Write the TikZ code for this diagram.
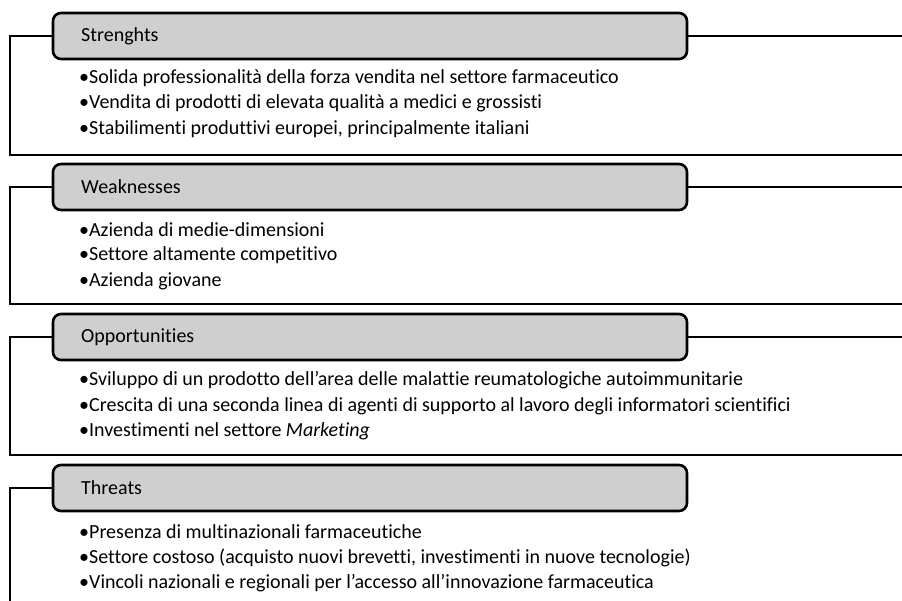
\documentclass[tikz,border=0pt]{standalone}
\usepackage{fontspec}
\setmainfont{Carlito}[Ligatures=NoCommon]
\definecolor{hdrgray}{HTML}{CFCFCF}
\tikzset{
  frame/.style={line width=2.6pt, draw=black},
  hdr/.style={draw=black, line width=2.6pt, fill=hdrgray, rounded corners=8pt,
    minimum width=634pt, minimum height=46pt, inner sep=0pt},
  hdrtext/.style={anchor=west, inner sep=0pt, font=\fontsize{20}{24}\selectfont},
  item/.style={anchor=west, inner sep=0pt, font=\fontsize{20}{24}\selectfont}
}
\begin{document}
\begin{tikzpicture}[x=1pt,y=-1pt]
\useasboundingbox (0,0) rectangle (902,601);
% Section 1
\node[hdr] (h1) at (370,36) {};
\node[hdrtext] (t1) at (81,36) {Strenghts};
\coordinate (l1a) at (10,36); \coordinate (l1b) at (10,155);
\coordinate (r1a) at (902,36); \coordinate (r1b) at (902,155);
\draw[frame] (h1.west) -- (l1a) -- (l1b) -- (r1b);
\draw[frame] (h1.east) -- (r1a);
\node[item] (s1) at (79,78) {•Solida professionalità della forza vendita nel settore farmaceutico};
\node[item] (s2) at (79,103.5) {•Vendita di prodotti di elevata qualità a medici e grossisti};
\node[item] (s3) at (79,129) {•Stabilimenti produttivi europei, principalmente italiani};
% Section 2
\node[hdr] (h2) at (370,187) {};
\node[hdrtext] (t2) at (81,187) {Weaknesses};
\coordinate (l2a) at (10,187); \coordinate (l2b) at (10,304);
\coordinate (r2a) at (902,187); \coordinate (r2b) at (902,304);
\draw[frame] (h2.west) -- (l2a) -- (l2b) -- (r2b);
\draw[frame] (h2.east) -- (r2a);
\node[item] (w1) at (79,230) {•Azienda di medie-dimensioni};
\node[item] (w2) at (79,255.5) {•Settore altamente competitivo};
\node[item] (w3) at (79,281) {•Azienda giovane};
% Section 3
\node[hdr] (h3) at (370,337) {};
\node[hdrtext] (t3) at (81,337) {Opportunities};
\coordinate (l3a) at (10,337); \coordinate (l3b) at (10,455);
\coordinate (r3a) at (902,337); \coordinate (r3b) at (902,455);
\draw[frame] (h3.west) -- (l3a) -- (l3b) -- (r3b);
\draw[frame] (h3.east) -- (r3a);
\node[item] (o1) at (79,380.5) {•Sviluppo di un prodotto dell’area delle malattie reumatologiche autoimmunitarie};
\node[item] (o2) at (79,406) {•Crescita di una seconda linea di agenti di supporto al lavoro degli informatori scientifici};
\node[item] (o3) at (79,431.5) {•Investimenti nel settore \textit{Marketing}};
% Section 4
\node[hdr] (h4) at (370,488) {};
\node[hdrtext] (t4) at (81,488) {Threats};
\coordinate (l4a) at (10,488); \coordinate (l4b) at (10,601);
\draw[frame] (h4.west) -- (l4a) -- (l4b);
\node[item] (x1) at (79,532) {•Presenza di multinazionali farmaceutiche};
\node[item] (x2) at (79,557.5) {•Settore costoso (acquisto nuovi brevetti, investimenti in nuove tecnologie)};
\node[item] (x3) at (79,583) {•Vincoli nazionali e regionali per l’accesso all’innovazione farmaceutica};
\end{tikzpicture}
\end{document}
